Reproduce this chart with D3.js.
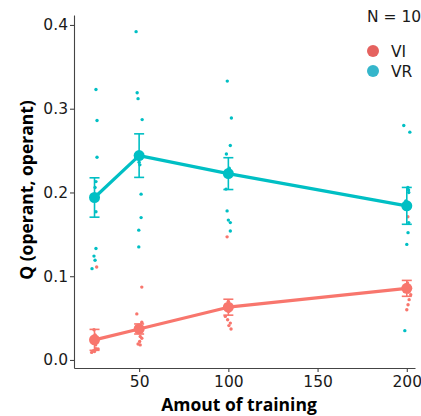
<!DOCTYPE html>
<html>
<head>
<meta charset="utf-8">
<script src="https://cdn.jsdelivr.net/npm/d3@7"></script>
<style>
  html, body { margin: 0; padding: 0; background: #fff; }
  svg { display: block; }
</style>
</head>
<body>
<svg id="chart" width="421" height="416"></svg>
<script>
// Training amounts on the x axis and tick labels
const trainingLevels = [25, 50, 100, 200];
const xTicks = [50, 100, 150, 200];
const yTicks = [0.0, 0.1, 0.2, 0.3, 0.4];

// Schedule groups
const groups = ["VI", "VR"];
const groupColors = ["#F8766D", "#00BFC4"];
const legendColors = ["#E5625F", "#35B6CB"];

// Group means and standard errors at each training level
const viMean = [0.024, 0.037, 0.063, 0.0855];
const viSE = [0.0125, 0.006, 0.0095, 0.0095];
const vrMean = [0.194, 0.244, 0.2225, 0.184];
const vrSE = [0.0235, 0.026, 0.019, 0.022];

// Individual subjects: [training (jittered), Q]
const viSubjects = [
  [26.2, 0.111], [24.7, 0.036], [25.3, 0.030], [25.0, 0.020], [25.6, 0.018],
  [25.8, 0.0135], [27.0, 0.013], [24.4, 0.011], [25.0, 0.010], [23.4, 0.009],
  [51.5, 0.087], [48.7, 0.055], [51.5, 0.045], [50.0, 0.040], [50.3, 0.036],
  [50.6, 0.028], [51.5, 0.026], [50.3, 0.022], [49.4, 0.019], [50.6, 0.018],
  [99.3, 0.147], [100.0, 0.070], [100.4, 0.065], [99.6, 0.060], [100.2, 0.058],
  [98.3, 0.052], [99.6, 0.048], [101.1, 0.044], [100.3, 0.041], [101.5, 0.037],
  [200.6, 0.171], [200.4, 0.092], [199.6, 0.085], [200.8, 0.086], [199.8, 0.083],
  [200.9, 0.081], [202.2, 0.078], [201.3, 0.072], [200.7, 0.066], [200.0, 0.060]
];
const vrSubjects = [
  [25.8, 0.323], [26.4, 0.286], [26.4, 0.242], [25.8, 0.213], [25.3, 0.206],
  [25.8, 0.177], [25.8, 0.133], [24.7, 0.124], [25.3, 0.119], [23.6, 0.109],
  [48.3, 0.392], [48.9, 0.319], [49.4, 0.312], [51.7, 0.287], [50.0, 0.236],
  [50.4, 0.233], [51.1, 0.198], [51.1, 0.170], [49.8, 0.155], [49.8, 0.135],
  [99.4, 0.333], [101.7, 0.289], [101.1, 0.256], [98.9, 0.246], [100.5, 0.229],
  [98.7, 0.204], [99.3, 0.178], [100.0, 0.167], [101.1, 0.164], [101.1, 0.154],
  [198.3, 0.280], [201.7, 0.272], [200.6, 0.206], [201.0, 0.203], [201.1, 0.200],
  [199.5, 0.190], [201.1, 0.164], [200.7, 0.152], [200.0, 0.138], [198.9, 0.035]
];

const summaries = [
  { name: groups[0], color: groupColors[0], mean: viMean, se: viSE, subjects: viSubjects },
  { name: groups[1], color: groupColors[1], mean: vrMean, se: vrSE, subjects: vrSubjects }
];

const svg = d3.select("#chart");
const plot = { left: 74, right: 415, top: 15, bottom: 368 };

const x = d3.scaleLinear().domain([13.5, 204.6]).range([plot.left, plot.right]);
const y = d3.scaleLinear().domain([-0.0096, 0.4119]).range([plot.bottom, plot.top]);

const tickFont = "DejaVu Sans, sans-serif";
const titleFont = "'Open Sans', sans-serif";

// Axes
const yAxis = svg.append("g")
  .attr("transform", `translate(${plot.left},0)`)
  .call(d3.axisLeft(y).tickValues(yTicks).tickFormat(d3.format(".1f")).tickSize(4).tickSizeOuter(0));
const xAxis = svg.append("g")
  .attr("transform", `translate(0,${plot.bottom})`)
  .call(d3.axisBottom(x).tickValues(xTicks).tickFormat(d3.format("d")).tickSize(4).tickSizeOuter(0));

[xAxis, yAxis].forEach(g => {
  g.select(".domain").attr("stroke", "#444").attr("stroke-width", 1.1);
  g.selectAll(".tick line").attr("stroke", "#444").attr("stroke-width", 1.1);
  g.selectAll(".tick text")
    .attr("fill", "#1a1a1a")
    .style("font-family", tickFont)
    .style("font-size", "15.5px");
});
yAxis.selectAll(".tick text").attr("x", -6);
xAxis.selectAll(".tick text").attr("y", 8);

// Axis titles
svg.append("text")
  .attr("x", 239)
  .attr("y", 411)
  .attr("text-anchor", "middle")
  .style("font-family", titleFont)
  .style("font-weight", "bold")
  .style("font-size", "17.5px")
  .attr("fill", "#000")
  .text("Amout of training");

svg.append("text")
  .attr("transform", `translate(33,190) rotate(-90)`)
  .attr("text-anchor", "middle")
  .style("font-family", titleFont)
  .style("font-weight", "bold")
  .style("font-size", "17.5px")
  .attr("fill", "#000")
  .text("Q (operant, operant)");

// Individual subjects
summaries.forEach(s => {
  svg.append("g").selectAll("circle")
    .data(s.subjects)
    .join("circle")
    .attr("cx", d => x(d[0]))
    .attr("cy", d => y(d[1]))
    .attr("r", 1.7)
    .attr("fill", s.color);
});

// Mean lines, error bars and mean points
const line = d3.line().x(d => x(d.t)).y(d => y(d.m));
summaries.forEach(s => {
  const rows = trainingLevels.map((t, i) => ({ t, m: s.mean[i], se: s.se[i] }));
  const g = svg.append("g");
  g.append("path")
    .datum(rows)
    .attr("d", line)
    .attr("fill", "none")
    .attr("stroke", s.color)
    .attr("stroke-width", 3.2)
    .attr("stroke-linejoin", "round");

  const bars = g.selectAll(".err").data(rows).join("g").attr("class", "err")
    .attr("stroke", s.color).attr("stroke-width", 1.6);
  bars.append("line")
    .attr("x1", d => x(d.t)).attr("x2", d => x(d.t))
    .attr("y1", d => y(d.m - d.se)).attr("y2", d => y(d.m + d.se));
  bars.append("line")
    .attr("x1", d => x(d.t) - 5).attr("x2", d => x(d.t) + 5)
    .attr("y1", d => y(d.m + d.se)).attr("y2", d => y(d.m + d.se));
  bars.append("line")
    .attr("x1", d => x(d.t) - 5).attr("x2", d => x(d.t) + 5)
    .attr("y1", d => y(d.m - d.se)).attr("y2", d => y(d.m - d.se));

  g.selectAll(".mean").data(rows).join("circle").attr("class", "mean")
    .attr("cx", d => x(d.t))
    .attr("cy", d => y(d.m))
    .attr("r", 5.5)
    .attr("fill", s.color);
});

// Legend
const legend = svg.append("g");
legend.append("text")
  .attr("x", 367).attr("y", 22)
  .style("font-family", tickFont)
  .style("font-size", "15.5px")
  .attr("fill", "#1a1a1a")
  .text("N = 10");
groups.forEach((name, i) => {
  legend.append("circle")
    .attr("cx", 373).attr("cy", 51 + i * 20)
    .attr("r", 6)
    .attr("fill", legendColors[i]);
  legend.append("text")
    .attr("x", 391).attr("y", 56.5 + i * 20)
    .style("font-family", tickFont)
    .style("font-size", "15.5px")
    .attr("fill", "#1a1a1a")
    .text(name);
});
</script>
</body>
</html>
